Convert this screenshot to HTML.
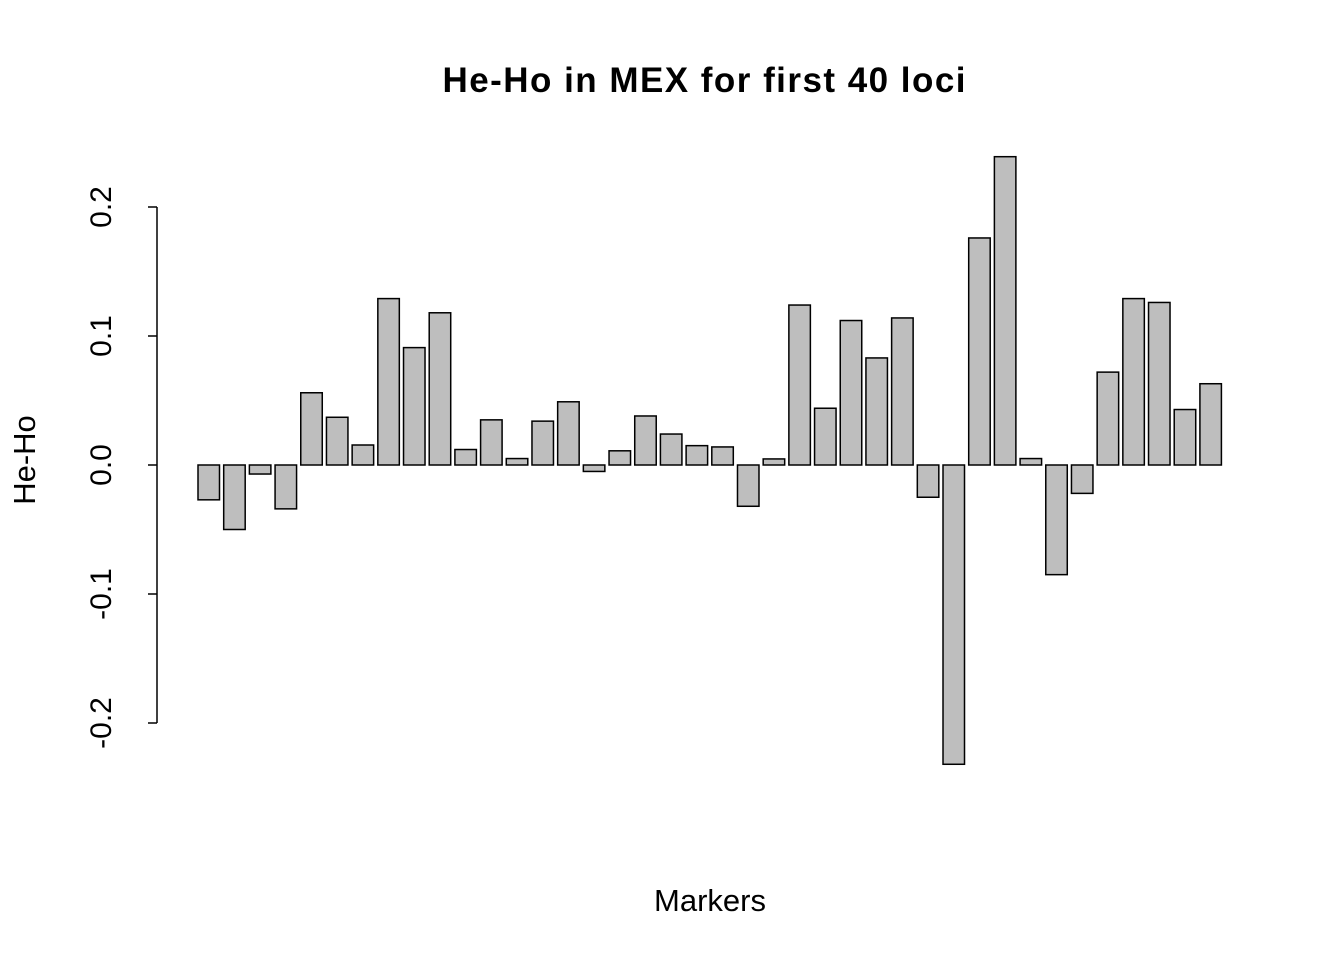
<!DOCTYPE html>
<html><head><meta charset="utf-8"><style>
html,body{margin:0;padding:0;background:#fff;}
svg text{font-family:"Liberation Sans",Arial,sans-serif;fill:#000;}
</style></head><body>
<svg id="chart" width="1344" height="960" viewBox="0 0 1344 960" xmlns="http://www.w3.org/2000/svg">
<text x="704" y="92" font-size="35" font-weight="bold" text-anchor="middle" textLength="523" lengthAdjust="spacing">He-Ho in MEX for first 40 loci</text>
<text x="710" y="911" font-size="31" text-anchor="middle">Markers</text>
<text x="0" y="0" font-size="31" text-anchor="middle" transform="translate(35,460) rotate(-90)">He-Ho</text>
<g id="bars"></g>
<g id="yaxis"></g>
</svg>
<script>
const values = [-0.027,-0.050,-0.007,-0.034,0.056,0.037,0.0155,0.129,0.091,0.118,
0.012,0.035,0.005,0.034,0.049,-0.005,0.011,0.038,0.024,0.015,
0.014,-0.032,0.0047,0.124,0.044,0.112,0.083,0.114,-0.025,-0.232,
0.176,0.239,0.005,-0.085,-0.022,0.072,0.129,0.126,0.043,0.063];
const yTicks = [-0.2,-0.1,0.0,0.1,0.2];
const yTickLabels = ["-0.2","-0.1","0.0","0.1","0.2"];

const NS="http://www.w3.org/2000/svg";
const y = v => 465 - v*1290;
const x = i => 198 + i*25.69;
const barW = 21.5;
const bars=document.getElementById('bars');
values.forEach((v,i)=>{
  const r=document.createElementNS(NS,'rect');
  r.setAttribute('x',x(i));
  r.setAttribute('y',Math.min(y(v),y(0)));
  r.setAttribute('width',barW);
  r.setAttribute('height',Math.abs(y(v)-y(0)));
  r.setAttribute('fill','#bebebe');
  r.setAttribute('stroke','#000');
  r.setAttribute('stroke-width','1.5');
  
  
  bars.appendChild(r);
});
const ax=document.getElementById('yaxis');
const line=document.createElementNS(NS,'line');
line.setAttribute('x1',157);line.setAttribute('x2',157);
line.setAttribute('y1',y(yTicks[yTicks.length-1]));line.setAttribute('y2',y(yTicks[0]));
line.setAttribute('stroke','#000');line.setAttribute('stroke-width','1.5');


ax.appendChild(line);
yTicks.forEach((t,i)=>{
  const tk=document.createElementNS(NS,'line');
  tk.setAttribute('x1',148);tk.setAttribute('x2',157);
  tk.setAttribute('y1',y(t));tk.setAttribute('y2',y(t));
  tk.setAttribute('stroke','#000');tk.setAttribute('stroke-width','1.5');
  
  
  ax.appendChild(tk);
  const tx=document.createElementNS(NS,'text');
  tx.setAttribute('font-size','30');
  tx.setAttribute('text-anchor','middle');
  tx.setAttribute('transform','translate(111,'+y(t)+') rotate(-90)');
  tx.textContent=yTickLabels[i];
  
  
  ax.appendChild(tx);
});
</script>
</body></html>
